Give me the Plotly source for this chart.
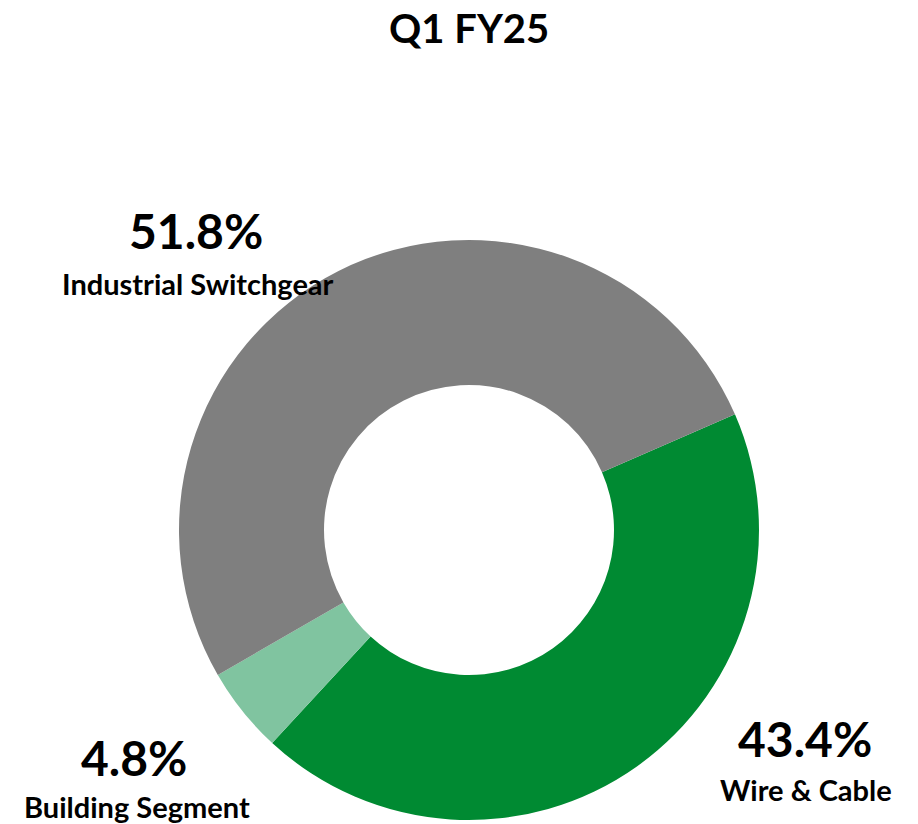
import plotly.graph_objects as go

W, H = 918, 824

categories = ["Wire & Cable", "Building Segment", "Industrial Switchgear"]
values = [43.4, 4.8, 51.8]
pct_labels = ["43.4%", "4.8%", "51.8%"]
colors = ["#008A32", "#80C4A0", "#7F7F7F"]
title_text = "Q1 FY25"

FONT = "Lato, 'Open Sans', sans-serif"

# pie center/radius in page pixels
cx, cy, r = 469, 530, 290

fig = go.Figure(go.Pie(
    labels=categories,
    values=values,
    hole=0.5,
    sort=False,
    direction="clockwise",
    rotation=66.5,
    marker=dict(colors=colors, line=dict(width=0)),
    textinfo="none",
    hoverinfo="label+percent",
    showlegend=False,
    domain=dict(x=[(cx - r) / W, (cx + r) / W], y=[(H - cy - r) / H, (H - cy + r) / H]),
))

def px(x):
    return x / W

def py(y):
    return 1 - y / H

pct_pos = {"Wire & Cable": (805, 738), "Building Segment": (134, 757), "Industrial Switchgear": (196, 230)}
name_pos = {"Wire & Cable": (806, 789), "Building Segment": (137, 806), "Industrial Switchgear": (198, 283)}

annotations = [dict(text=f"<b>{title_text}</b>", x=px(469), y=py(28), xref="paper", yref="paper",
                    showarrow=False, font=dict(family=FONT, size=40, color="#000000"),
                    xanchor="center", yanchor="middle")]
for cat, pl in zip(categories, pct_labels):
    x, y = pct_pos[cat]
    annotations.append(dict(text=f"<b>{pl}</b>", x=px(x), y=py(y), xref="paper", yref="paper",
                            showarrow=False, font=dict(family=FONT, size=48, color="#000000"),
                            xanchor="center", yanchor="middle"))
    x, y = name_pos[cat]
    annotations.append(dict(text=f"<b>{cat}</b>", x=px(x), y=py(y), xref="paper", yref="paper",
                            showarrow=False, font=dict(family=FONT, size=29, color="#000000"),
                            xanchor="center", yanchor="middle"))

fig.update_layout(
    width=W, height=H,
    margin=dict(l=0, r=0, t=0, b=0),
    paper_bgcolor="#FFFFFF",
    plot_bgcolor="#FFFFFF",
    annotations=annotations,
)

fig.write_html("out.html", config={"displayModeBar": False},
               post_script="document.body.style.margin='0px';")
